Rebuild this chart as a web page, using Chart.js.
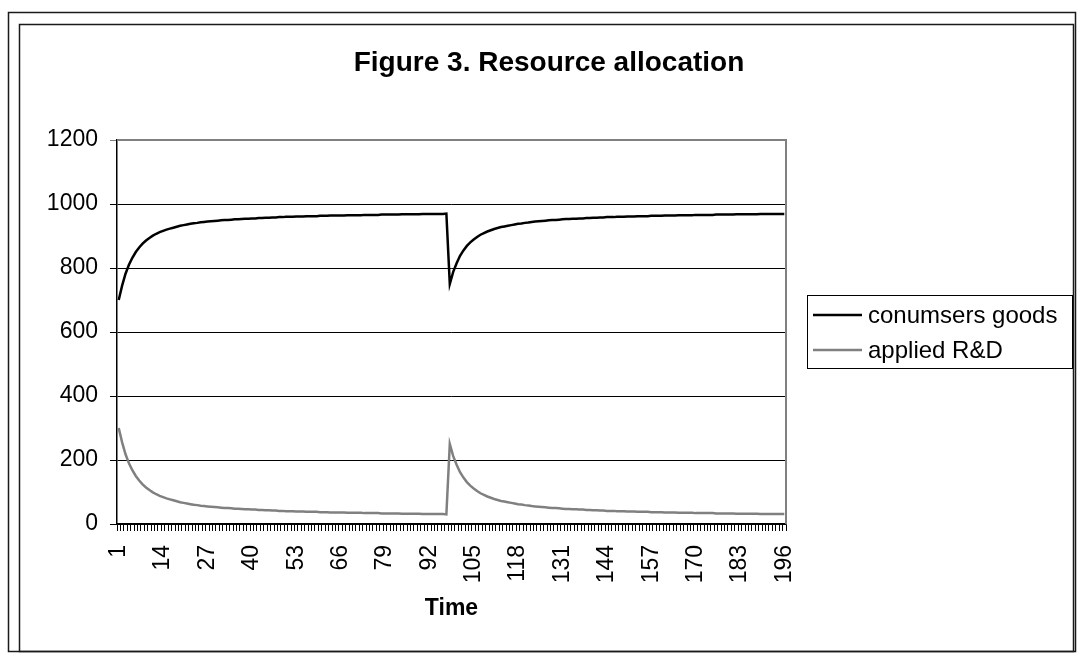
<!DOCTYPE html>
<html>
<head>
<meta charset="utf-8">
<title>Figure 3. Resource allocation</title>
<script src="https://cdn.jsdelivr.net/npm/chart.js@4.4.0/dist/chart.umd.min.js"></script>
<style>
    html, body { margin: 0; padding: 0; background: #ffffff; }
    #chart { display: block; }
</style>
</head>
<body>
<canvas id="chart" width="1077" height="655"></canvas>
<script>
// Time steps 1..196 (category axis)
const timeSteps = Array.from({ length: 196 }, (_, i) => String(i + 1));

// Only every 13th step gets a label, as in the original
const shownLabels = ['1', '14', '27', '40', '53', '66', '79', '92', '105', '118', '131', '144', '157', '170', '183', '196'];

const seriesNames = ['conumsers goods', 'applied R&D'];

// Values
const consumerGoods = [
    700, 745, 782, 810, 832, 850, 864, 876, 886, 894,
    901, 907, 912, 916, 920, 923, 926, 929, 932, 934,
    936, 938, 940, 941, 943, 944, 945, 946, 947, 948,
    949, 950, 950, 951, 952, 952, 953, 954, 954, 955,
    955, 956, 956, 957, 957, 958, 958, 959, 959, 960,
    960, 960, 961, 961, 961, 962, 962, 962, 962, 963,
    963, 963, 964, 964, 964, 964, 964, 965, 965, 965,
    965, 965, 966, 966, 966, 966, 966, 967, 967, 967,
    967, 967, 967, 968, 968, 968, 968, 968, 968, 969,
    969, 969, 969, 969, 969, 969, 970,
    750, 788, 815, 838, 855, 869, 880, 889, 897, 904,
    909, 914, 918, 922, 925, 928, 930, 932, 934, 936,
    938, 939, 941, 942, 944, 945, 946, 947, 948, 949,
    950, 950, 951, 952, 953, 953, 954, 954, 955, 955,
    956, 956, 957, 957, 958, 958, 959, 959, 959, 960,
    960, 960, 961, 961, 961, 962, 962, 962, 962, 963,
    963, 963, 963, 964, 964, 964, 964, 965, 965, 965,
    965, 965, 966, 966, 966, 966, 966, 966, 967, 967,
    967, 967, 967, 967, 968, 968, 968, 968, 968, 968,
    968, 969, 969, 969, 969, 969, 969, 969, 969
];

const appliedRD = [
    300, 255, 218, 190, 168, 150, 136, 124, 114, 106,
    99, 93, 88, 84, 80, 77, 74, 71, 68, 66,
    64, 62, 60, 59, 57, 56, 55, 54, 53, 52,
    51, 50, 50, 49, 48, 48, 47, 46, 46, 45,
    45, 44, 44, 43, 43, 42, 42, 41, 41, 40,
    40, 40, 39, 39, 39, 38, 38, 38, 38, 37,
    37, 37, 36, 36, 36, 36, 36, 35, 35, 35,
    35, 35, 34, 34, 34, 34, 34, 33, 33, 33,
    33, 33, 33, 32, 32, 32, 32, 32, 32, 31,
    31, 31, 31, 31, 31, 31, 30,
    250, 212, 185, 162, 145, 131, 120, 111, 103, 96,
    91, 86, 82, 78, 75, 72, 70, 68, 66, 64,
    62, 61, 59, 58, 56, 55, 54, 53, 52, 51,
    50, 50, 49, 48, 47, 47, 46, 46, 45, 45,
    44, 44, 43, 43, 42, 42, 41, 41, 41, 40,
    40, 40, 39, 39, 39, 38, 38, 38, 38, 37,
    37, 37, 37, 36, 36, 36, 36, 35, 35, 35,
    35, 35, 34, 34, 34, 34, 34, 34, 33, 33,
    33, 33, 33, 33, 32, 32, 32, 32, 32, 32,
    32, 31, 31, 31, 31, 31, 31, 31, 31
];

const yMin = 0;
const yMax = 1200;
const yStep = 200;

const FONT = "'Liberation Sans', Arial, sans-serif";

// Frames, plot border, title and boxed legend in the old spreadsheet style
const excelDecor = {
    id: 'excelDecor',
    beforeDraw(chart) {
        const ctx = chart.ctx;
        ctx.save();
        ctx.fillStyle = '#ffffff';
        ctx.fillRect(0, 0, chart.width, chart.height);
        ctx.strokeStyle = '#1a1a1a';
        ctx.lineWidth = 1.5;
        ctx.strokeRect(8.5, 12.5, 1067, 639);
        ctx.strokeRect(19.5, 24.5, 1054, 627);
        ctx.restore();
    },
    afterDraw(chart) {
        const ctx = chart.ctx;
        const area = chart.chartArea;
        ctx.save();

        // gray plot border on top and right
        ctx.strokeStyle = '#808080';
        ctx.lineWidth = 2;
        ctx.beginPath();
        ctx.moveTo(area.left, area.top);
        ctx.lineTo(area.right, area.top);
        ctx.lineTo(area.right, area.bottom);
        ctx.stroke();

        // title
        ctx.fillStyle = '#000000';
        ctx.font = 'bold 28px ' + FONT;
        ctx.textAlign = 'center';
        ctx.textBaseline = 'alphabetic';
        ctx.fillText('Figure 3. Resource allocation', 549, 71);

        // legend box
        const box = { x: 807, y: 295, w: 265, h: 73 };
        ctx.strokeStyle = '#000000';
        ctx.lineWidth = 1;
        ctx.strokeRect(box.x + 0.5, box.y + 0.5, box.w, box.h);
        ctx.font = '24px ' + FONT;
        ctx.textAlign = 'left';
        ctx.textBaseline = 'middle';
        chart.data.datasets.forEach((ds, i) => {
            const y = box.y + 20 + i * 35;
            ctx.strokeStyle = ds.borderColor;
            ctx.lineWidth = 2.5;
            ctx.beginPath();
            ctx.moveTo(813, y);
            ctx.lineTo(862, y);
            ctx.stroke();
            ctx.fillStyle = '#000000';
            ctx.fillText(ds.label, 868, y + 1);
        });
        ctx.restore();
    }
};

const ctx = document.getElementById('chart');

new Chart(ctx, {
    type: 'line',
    data: {
        labels: timeSteps,
        datasets: [{
            label: seriesNames[0],
            data: consumerGoods,
            borderColor: '#000000',
            borderWidth: 2.5,
            pointRadius: 0,
            tension: 0,
            fill: false
        }, {
            label: seriesNames[1],
            data: appliedRD,
            borderColor: '#808080',
            borderWidth: 2.5,
            pointRadius: 0,
            tension: 0,
            fill: false
        }]
    },
    options: {
        responsive: false,
        animation: false,
        devicePixelRatio: 1,
        layout: {
            padding: { left: 20, right: 291, top: 140, bottom: 29 }
        },
        plugins: {
            legend: { display: false },
            title: { display: false },
            tooltip: { enabled: false }
        },
        scales: {
            x: {
                offset: true,
                afterFit: function(scale) {
                    scale.height = 102;
                },
                grid: {
                    offset: true,
                    drawOnChartArea: false,
                    color: '#000000',
                    tickLength: 7
                },
                border: { color: '#000000', width: 1.5 },
                ticks: {
                    autoSkip: false,
                    minRotation: 90,
                    maxRotation: 90,
                    padding: 14,
                    color: '#000000',
                    font: { family: FONT, size: 23 },
                    callback: function(value) {
                        const lbl = this.getLabelForValue(value);
                        return shownLabels.includes(lbl) ? lbl : '';
                    }
                },
                title: {
                    display: true,
                    text: 'Time',
                    color: '#000000',
                    font: { family: FONT, size: 23, weight: 'bold' },
                    padding: { top: 11, bottom: 4 }
                }
            },
            y: {
                min: yMin,
                max: yMax,
                afterFit: function(scale) {
                    scale.width = 97;
                },
                grid: {
                    color: function(c) {
                        return c.tick && c.tick.value === yMax ? '#808080' : '#000000';
                    },
                    lineWidth: 1,
                    tickLength: 7
                },
                border: { color: '#000000', width: 1.5 },
                ticks: {
                    stepSize: yStep,
                    padding: 12,
                    color: '#000000',
                    font: { family: FONT, size: 23 },
                    callback: function(value) {
                        return String(value);
                    }
                }
            }
        }
    },
    plugins: [excelDecor]
});
</script>
</body>
</html>
